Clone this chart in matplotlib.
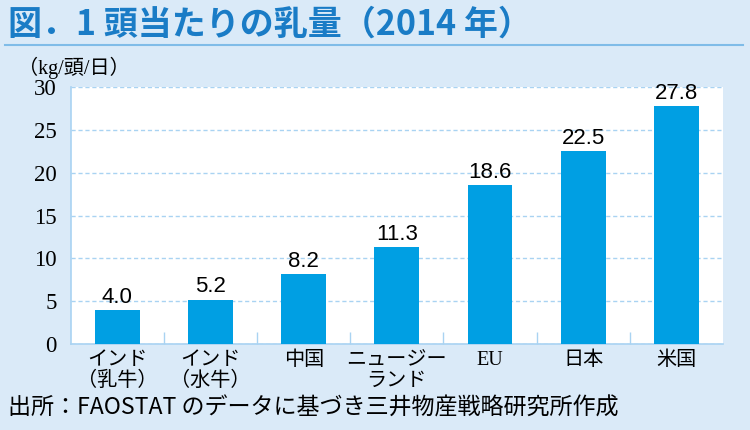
import matplotlib
matplotlib.use("Agg")
import matplotlib.pyplot as plt
from matplotlib import font_manager

# data
categories = ["インド\n（乳牛）", "インド\n（水牛）", "中国", "ニュージー\nランド", "EU", "日本", "米国"]
values = [4.0, 5.2, 8.2, 11.3, 18.6, 22.5, 27.8]
yticks = [0, 5, 10, 15, 20, 25, 30]

BG = "#daeaf8"
BAR = "#009fe3"
TITLE = "#1a7cc6"
GRID = "#a9d3f2"

installed = {f.name for f in font_manager.fontManager.ttflist}
narrow = "Liberation Sans Narrow" if "Liberation Sans Narrow" in installed else "Liberation Sans"
serif_jp = ["Liberation Serif", "Noto Sans CJK JP"]
sans_jp = ["Noto Sans CJK JP", "DejaVu Sans"]

fig = plt.figure(figsize=(7.5, 4.3), dpi=100)
fig.patch.set_facecolor(BG)
ax = fig.add_axes([0.0943, 0.2, 0.8697, 0.597])
ax.set_facecolor("white")

x = range(len(categories))
ax.bar(x, values, width=0.48, color=BAR, zorder=3)
for xi, v in zip(x, values):
    ax.annotate(f"{v:.1f}", (xi, v), xytext=(0, 1.5), textcoords="offset points",
                ha="center", va="bottom", fontsize=16, family=narrow, color="black")

ax.set_xlim(-0.5, len(categories) - 0.5)
ax.set_ylim(0, 30)
ax.set_yticks(yticks)
ax.set_yticklabels([str(t) for t in yticks], family="Liberation Serif", fontsize=16.5)
ax.yaxis.grid(True, color=GRID, linestyle=(0, (3, 2)), linewidth=1, zorder=1)
ax.tick_params(axis="y", length=0, pad=10)

ax.set_xticks(list(x))
ax.set_xticklabels(categories, family=serif_jp, fontsize=14.5, linespacing=1.12)
ax.tick_params(axis="x", which="major", length=0, pad=5)
ax.set_xticks([i + 0.5 for i in range(len(categories) - 1)], minor=True)
ax.tick_params(axis="x", which="minor", direction="in", length=9, color=GRID, width=1)

for side in ["top", "right"]:
    ax.spines[side].set_visible(False)
for side in ["left", "bottom"]:
    ax.spines[side].set_color(GRID)
    ax.spines[side].set_linewidth(1.2)

# title and underline
fig.text(0.011, 0.945, "図．1 頭当たりの乳量（2014 年）", family=sans_jp, fontsize=24.5,
         fontweight="bold", color=TITLE, va="center", ha="left")
fig.add_artist(plt.Line2D([0.007, 0.99], [0.895, 0.895], color="#7fbce8", linewidth=1.5))

fig.text(0.024, 0.842, "（kg/頭/日）", family=serif_jp, fontsize=14.5, va="center", ha="left")
fig.text(0.011, 0.05, "出所：FAOSTAT のデータに基づき三井物産戦略研究所作成", family=sans_jp,
         fontsize=16.6, va="center", ha="left", color="black")

fig.savefig("out.png", dpi=100, facecolor=BG)
